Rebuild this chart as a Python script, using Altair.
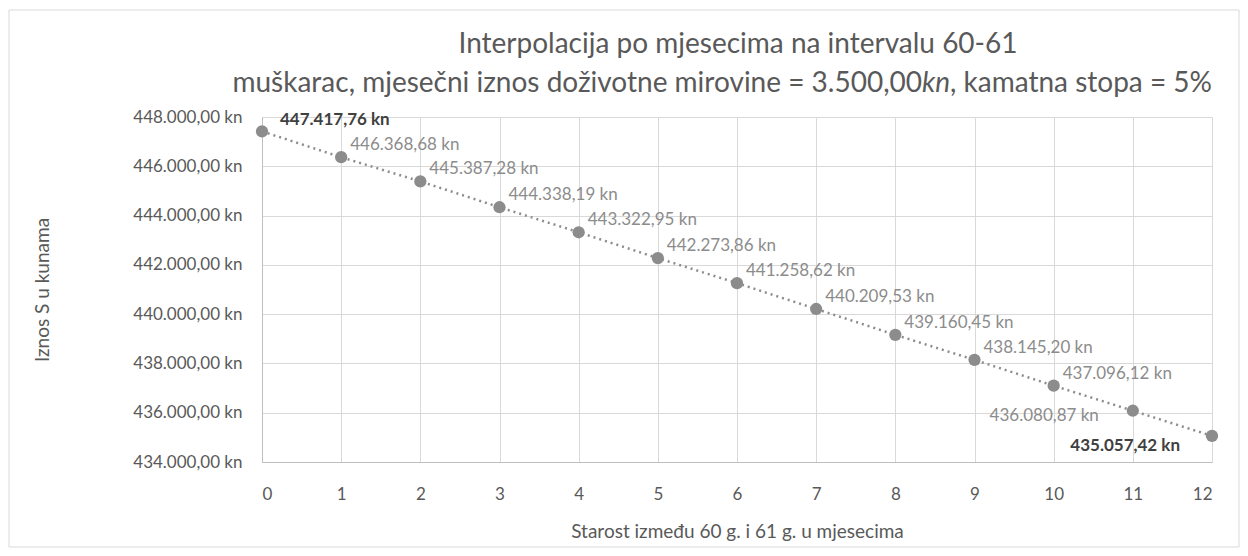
import altair as alt
import pandas as pd

months = list(range(13))
values = [447417.76, 446368.68, 445387.28, 444338.19, 443322.95, 442273.86,
          441258.62, 440209.53, 439160.45, 438145.20, 437096.12, 436080.87,
          435057.42]
y_ticks = [434000, 436000, 438000, 440000, 442000, 444000, 446000, 448000]

title_line1 = "Interpolacija po mjesecima na intervalu 60-61"
title_line2_a = "muškarac, mjesečni iznos doživotne mirovine = 3.500,00"
title_line2_b = "kn"
title_line2_c = ", kamatna stopa = 5%"


def hr(v):
    s = f"{v:,.2f}"
    return s.replace(",", "_").replace(".", ",").replace("_", ".") + " kn"


df = pd.DataFrame({"m": months, "v": values, "lab": [hr(v) for v in values]})

FONT = "Lato"
GRAY = "#8c8c8c"
DARK = "#404040"
AX = "#595959"
TS = 28

x = alt.X("m:Q", scale=alt.Scale(domain=[0, 12], nice=False),
          axis=alt.Axis(values=months, format="d", title="Starost između 60 g. i 61 g. u mjesecima",
                        grid=True, gridColor="#d9d9d9", domainColor="#bfbfbf", ticks=False,
                        labelPadding=24, labelFontSize=17, labelColor=AX, labelFont=FONT,
                        titleFontSize=19, titleColor=AX, titleFont=FONT, titleFontWeight="normal",
                        titlePadding=20))
y = alt.Y("v:Q", scale=alt.Scale(domain=[434000, 448000], nice=False, zero=False),
          axis=alt.Axis(values=y_ticks, title="Iznos  S u kunama",
                        labelExpr="replace(replace(replace(format(datum.value, ',.2f'), ',', '_'), '.', ','), '_', '.') + ' kn'",
                        grid=True, gridColor="#d9d9d9", domainColor="#bfbfbf", ticks=False,
                        labelPadding=20, labelFontSize=17, labelColor=AX, labelFont=FONT,
                        titleFontSize=19, titleColor=AX, titleFont=FONT, titleFontWeight="normal",
                        titlePadding=80))

base = alt.Chart(df)
one = pd.DataFrame({"a": [0]})

border = alt.Chart(one).mark_rect(
    fill=None, stroke="#d9d9d9", strokeWidth=1
).encode(x=alt.value(-253), x2=alt.value(977), y=alt.value(-107), y2=alt.value(430))

t1 = alt.Chart(one).mark_text(align="center", baseline="middle", font=FONT, fontSize=TS,
                              color=AX, text=title_line1).encode(x=alt.value(476), y=alt.value(-72))
t2a = alt.Chart(one).mark_text(align="right", baseline="middle", font=FONT, fontSize=TS,
                               color=AX, text=title_line2_a).encode(x=alt.value(660), y=alt.value(-33))
t2b = alt.Chart(one).mark_text(align="left", baseline="middle", font=FONT, fontSize=TS,
                               fontStyle="italic", color=AX, text=title_line2_b).encode(x=alt.value(660), y=alt.value(-33))
t2c = alt.Chart(one).mark_text(align="left", baseline="middle", font=FONT, fontSize=TS,
                               color=AX, text=title_line2_c).encode(x=alt.value(688), y=alt.value(-33))

line = base.mark_line(color=GRAY, strokeWidth=2.5, strokeDash=[2, 4]).encode(x=x, y=y)
pts = base.mark_point(filled=True, color=GRAY, size=150, opacity=1).encode(x=x, y=y)

lab0 = base.transform_filter("datum.m == 0").mark_text(
    align="left", baseline="middle", dx=18, dy=-11, font=FONT, fontSize=17,
    fontWeight="bold", color=DARK).encode(x=x, y=y, text="lab:N")
labmid = base.transform_filter("datum.m >= 1 && datum.m <= 10").mark_text(
    align="left", baseline="middle", dx=9, dy=-12, font=FONT, fontSize=17,
    color=GRAY).encode(x=x, y=y, text="lab:N")
lab11 = base.transform_filter("datum.m == 11").mark_text(
    align="right", baseline="middle", dx=-34, dy=5, font=FONT, fontSize=17,
    color=GRAY).encode(x=x, y=y, text="lab:N")
lab12 = base.transform_filter("datum.m == 12").mark_text(
    align="right", baseline="middle", dx=-32, dy=10, font=FONT, fontSize=17,
    fontWeight="bold", color=DARK).encode(x=x, y=y, text="lab:N")

chart = alt.layer(border, t1, t2a, t2b, t2c, line, pts, lab0, labmid, lab11, lab12).properties(
    width=950, height=345,
    autosize=alt.AutoSizeParams(type="none"),
    padding={"left": 254, "top": 109, "right": 28, "bottom": 86},
).configure_view(stroke=None)

chart.save("out.html", embed_options={"renderer": "svg", "actions": False})
